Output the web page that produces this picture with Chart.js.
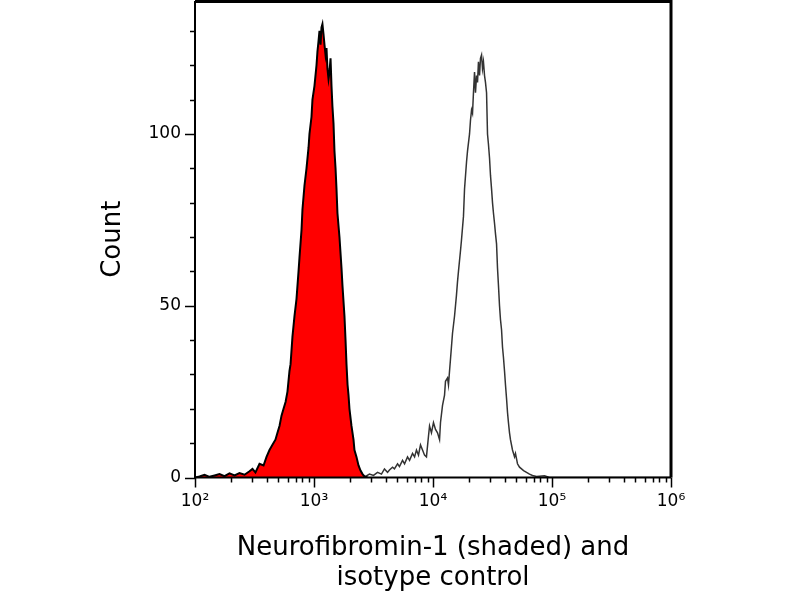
<!DOCTYPE html>
<html>
<head>
<meta charset="utf-8">
<script src="https://cdn.jsdelivr.net/npm/chart.js@4.4.1/dist/chart.umd.min.js"></script>
<style>
  html, body { margin: 0; padding: 0; background: #fff; }
  #chart { display: block; }
</style>
</head>
<body>
<canvas id="chart" width="800" height="600"></canvas>
<script>
// decade exponent of fluorescence intensity (x) and event count (y)
const neuroLog = [2.004, 2.038, 2.080, 2.122, 2.164, 2.206, 2.248, 2.290, 2.332, 2.374,
  2.416, 2.458, 2.483, 2.508, 2.542, 2.576, 2.601, 2.626, 2.651, 2.676,
  2.693, 2.710, 2.727, 2.744, 2.761, 2.777, 2.794, 2.803, 2.819, 2.836,
  2.853, 2.870, 2.878, 2.895, 2.903, 2.920, 2.937, 2.954, 2.962, 2.979,
  2.987, 3.004, 3.021, 3.029, 3.038, 3.046, 3.055, 3.063, 3.071, 3.080,
  3.088, 3.097, 3.105, 3.113, 3.122, 3.130, 3.139, 3.147, 3.155, 3.164,
  3.172, 3.181, 3.189, 3.197, 3.214, 3.231, 3.239, 3.256, 3.265, 3.273,
  3.282, 3.290, 3.298, 3.315, 3.332, 3.340, 3.357, 3.374, 3.391, 3.408,
  3.424, 3.450];
const neuroCount = [0, 0.3, 0.8, 0.2, 0.6, 1, 0.4, 1.2, 0.6, 1.3,
  0.8, 1.8, 2.5, 1.5, 4, 3.5, 6, 8, 9.5, 11,
  13, 15, 18, 20, 22, 25, 31, 33, 41, 47,
  52, 60, 64, 72, 78, 85, 90, 96, 100, 105,
  110, 114, 120, 124, 127, 130, 126, 131, 132, 129,
  126, 123, 125, 119, 116, 118, 122, 114, 108, 103,
  95, 90, 84, 77, 70, 61, 56, 47, 40, 33,
  27, 24, 20, 15, 11, 8, 6, 3.5, 2, 1,
  0.3, 0];

const isoLog = [2.000, 3.298, 3.399, 3.433, 3.466, 3.500, 3.534, 3.567, 3.592, 3.618,
  3.634, 3.660, 3.676, 3.702, 3.718, 3.744, 3.761, 3.786, 3.803, 3.828,
  3.845, 3.861, 3.878, 3.895, 3.912, 3.929, 3.945, 3.962, 3.971, 3.987,
  4.004, 4.021, 4.038, 4.055, 4.063, 4.080, 4.097, 4.105, 4.122, 4.130,
  4.139, 4.155, 4.164, 4.181, 4.197, 4.206, 4.214, 4.231, 4.239, 4.256,
  4.265, 4.282, 4.290, 4.307, 4.315, 4.324, 4.332, 4.340, 4.349, 4.357,
  4.366, 4.374, 4.382, 4.391, 4.399, 4.408, 4.416, 4.424, 4.433, 4.441,
  4.450, 4.458, 4.466, 4.475, 4.483, 4.492, 4.500, 4.508, 4.517, 4.525,
  4.534, 4.542, 4.550, 4.559, 4.567, 4.576, 4.584, 4.592, 4.601, 4.609,
  4.618, 4.626, 4.634, 4.643, 4.651, 4.668, 4.685, 4.693, 4.710, 4.727,
  4.744, 4.761, 4.786, 4.811, 4.836, 4.870, 4.937, 4.979, 5.063, 6.000];
const isoCount = [0, 0, 0.5, 0.3, 1, 0.6, 1.5, 1, 2.5, 1.5,
  2.2, 3, 2.5, 4, 3.2, 5, 4, 6, 5, 7,
  6, 8, 6.5, 9.5, 8, 6.5, 6, 12, 15, 13,
  16, 14, 13, 11, 16, 21, 24, 28, 29, 27,
  31, 38, 42, 47, 53, 57, 60, 66, 69, 76,
  84, 92, 95, 100, 104, 107, 106, 112, 118, 112,
  117, 115, 121, 117, 122, 123, 119, 121, 117, 115,
  112, 100, 97, 93, 88, 84, 80, 77, 74, 71,
  68, 61, 56, 50, 46, 43, 38, 35, 31, 27,
  23, 19, 16, 13, 11, 8, 6, 7, 4, 3,
  2.5, 2, 1.5, 1, 0.6, 0.3, 0.5, 0, 0, 0];

const xTickExp = [2, 3, 4, 5, 6];
const yTickValues = [0, 50, 100];
const yTitle = 'Count';
const xTitle = ['Neurofibromin-1 (shaded) and', 'isotype control'];

const SUP = { 2: '\u00B2', 3: '\u00B3', 4: '\u2074', 5: '\u2075', 6: '\u2076' };
const FONT = '"DejaVu Sans", Verdana, sans-serif';

const toPoints = (logs, counts) => logs.map((e, i) => ({ x: Math.pow(10, e), y: counts[i] }));

// axis lines, frame and tick marks drawn on top of the data
const frame = {
    id: 'frame',
    afterDatasetsDraw(chart) {
        const { ctx, chartArea: a, scales: { x, y } } = chart;
        ctx.save();
        ctx.strokeStyle = '#000';

        // top and right frame
        ctx.lineWidth = 3;
        ctx.beginPath();
        ctx.moveTo(a.left, a.top + 0.5);
        ctx.lineTo(a.right, a.top + 0.5);
        ctx.lineTo(a.right, a.bottom);
        ctx.stroke();

        // left and bottom axes
        ctx.lineWidth = 2;
        ctx.beginPath();
        ctx.moveTo(a.left, a.top);
        ctx.lineTo(a.left, a.bottom);
        ctx.lineTo(a.right, a.bottom);
        ctx.stroke();

        // y ticks every 10, longer at 0/50/100
        ctx.lineWidth = 1.5;
        for (let v = 0; v <= 130; v += 10) {
            const py = Math.round(y.getPixelForValue(v)) + 0.5;
            const len = v % 50 === 0 ? 10 : 5;
            ctx.beginPath();
            ctx.moveTo(a.left - len, py);
            ctx.lineTo(a.left, py);
            ctx.stroke();
        }

        // x log ticks
        for (let e = 2; e <= 6; e++) {
            for (let k = 1; k <= 9; k++) {
                if (e === 6 && k > 1) break;
                const px = Math.round(x.getPixelForValue(k * Math.pow(10, e))) + 0.5;
                const len = k === 1 ? 10 : 5;
                ctx.beginPath();
                ctx.moveTo(px, a.bottom);
                ctx.lineTo(px, a.bottom + len);
                ctx.stroke();
            }
        }
        ctx.restore();
    }
};

new Chart(document.getElementById('chart'), {
    type: 'line',
    data: {
        datasets: [
            {
                label: 'Neurofibromin-1',
                data: toPoints(neuroLog, neuroCount),
                borderColor: '#000',
                borderWidth: 2,
                backgroundColor: '#ff0000',
                fill: 'origin',
                pointRadius: 0,
                tension: 0,
                order: 1
            },
            {
                label: 'Isotype control',
                data: toPoints(isoLog, isoCount),
                borderColor: '#333333',
                borderWidth: 1.5,
                fill: false,
                pointRadius: 0,
                tension: 0,
                order: 2
            }
        ]
    },
    options: {
        responsive: false,
        animation: false,
        layout: { padding: { top: 1, right: 129, left: 0, bottom: 0 } },
        plugins: {
            legend: { display: false },
            tooltip: { enabled: false }
        },
        scales: {
            x: {
                type: 'logarithmic',
                min: 100,
                max: 1000000,
                afterBuildTicks: s => { s.ticks = xTickExp.map(e => ({ value: Math.pow(10, e) })); },
                afterFit: s => {
                    s.height = 122.5;
                    s.paddingLeft = 0;
                    s.paddingRight = 0;
                },
                grid: { display: false, drawTicks: false },
                border: { display: false },
                ticks: {
                    autoSkip: false,
                    maxRotation: 0,
                    padding: 14,
                    color: '#000',
                    font: { family: FONT, size: 17 },
                    callback: v => '10' + SUP[Math.round(Math.log10(v))]
                },
                title: {
                    display: true,
                    text: xTitle,
                    color: '#000',
                    font: { family: FONT, size: 26, lineHeight: 1.15 },
                    padding: { top: 0, bottom: 7 }
                }
            },
            y: {
                min: 0,
                max: 138.7,
                afterBuildTicks: s => { s.ticks = yTickValues.map(v => ({ value: v })); },
                afterFit: s => {
                    s.width = 195;
                    s.paddingTop = 0;
                    s.paddingBottom = 0;
                },
                grid: { display: false, drawTicks: false },
                border: { display: false },
                ticks: {
                    padding: 14,
                    color: '#000',
                    font: { family: FONT, size: 17 }
                },
                title: {
                    display: true,
                    text: yTitle,
                    color: '#000',
                    font: { family: FONT, size: 26, lineHeight: 1.15 },
                    padding: { top: 98, bottom: 0 }
                }
            }
        }
    },
    plugins: [frame]
});
</script>
</body>
</html>
